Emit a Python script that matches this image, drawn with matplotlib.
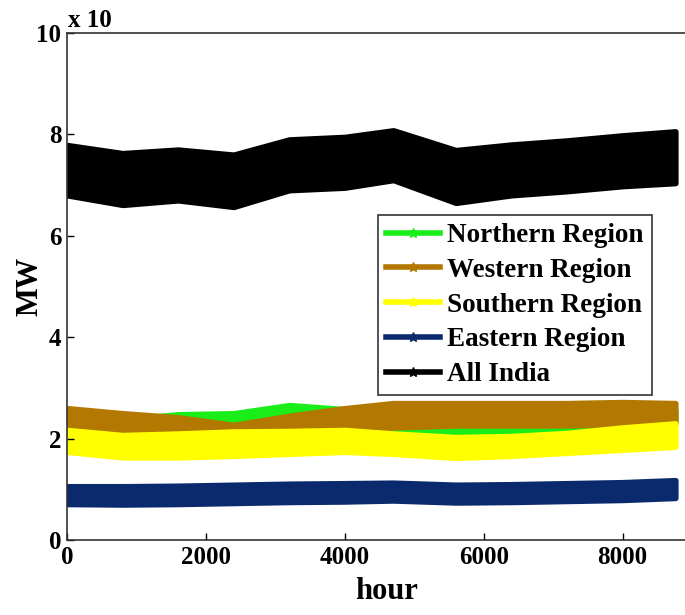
import matplotlib
matplotlib.use("Agg")
import matplotlib.pyplot as plt
from matplotlib.lines import Line2D

# envelope of hourly load (x 10^4 MW), read at a few hours of the year
hours = [0, 800, 1600, 2400, 3200, 4000, 4700, 5600, 6400, 7200, 8000, 8760]

northern_hi = [2.35, 2.38, 2.48, 2.50, 2.66, 2.58, 2.48, 2.42, 2.42, 2.45, 2.50, 2.55]
northern_lo = [1.98, 2.00, 2.10, 2.20, 2.25, 2.20, 2.08, 2.05, 2.06, 2.10, 2.28, 2.30]
western_hi = [2.60, 2.50, 2.42, 2.27, 2.45, 2.60, 2.70, 2.70, 2.70, 2.70, 2.72, 2.70]
western_lo = [2.15, 2.07, 2.07, 2.12, 2.15, 2.17, 2.22, 2.26, 2.26, 2.26, 2.28, 2.30]
southern_hi = [2.17, 2.07, 2.10, 2.14, 2.15, 2.17, 2.10, 2.03, 2.05, 2.11, 2.22, 2.30]
southern_lo = [1.74, 1.63, 1.63, 1.66, 1.70, 1.74, 1.70, 1.62, 1.66, 1.72, 1.78, 1.84]
eastern_hi = [1.06, 1.06, 1.07, 1.09, 1.11, 1.12, 1.13, 1.09, 1.10, 1.12, 1.14, 1.18]
eastern_lo = [0.71, 0.70, 0.71, 0.73, 0.75, 0.76, 0.78, 0.74, 0.75, 0.77, 0.79, 0.83]
india_hi = [7.79, 7.63, 7.70, 7.60, 7.90, 7.95, 8.08, 7.69, 7.80, 7.88, 7.98, 8.06]
india_lo = [6.80, 6.61, 6.70, 6.57, 6.90, 6.95, 7.10, 6.65, 6.80, 6.88, 6.98, 7.04]

labels = ['Northern Region', 'Western Region', 'Southern Region', 'Eastern Region', 'All India']
colors = ['#19ee19', '#b27800', '#ffff00', '#0b2a6e', '#000000']

plt.rcParams['font.family'] = ['Liberation Serif', 'DejaVu Serif']
plt.rcParams['font.weight'] = 'bold'

fig = plt.figure(figsize=(6.85, 6.15), dpi=100)
# right edge of the axes runs past the picture, as in the original
ax = fig.add_axes([67 / 685, 75 / 615, 640 / 685, 507 / 615])

bands = [(northern_lo, northern_hi), (western_lo, western_hi), (southern_lo, southern_hi),
         (eastern_lo, eastern_hi), (india_lo, india_hi)]
for (lo, hi), c in zip(bands, colors):
    pc = ax.fill_between(hours, lo, hi, color=c, linewidth=4, edgecolor=c)
    pc.set_joinstyle('round')

ax.set_xlim(0, 9216)
ax.set_ylim(0, 10)
ax.set_xticks([0, 2000, 4000, 6000, 8000])
ax.set_yticks([0, 2, 4, 6, 8, 10])
ax.tick_params(direction='in', length=5, width=1, labelsize=18, pad=4)
for s in ax.spines.values():
    s.set_linewidth(1.2)
    s.set_color('#333333')

ax.set_xlabel('hour', fontsize=22, fontweight='bold', labelpad=6)
ax.set_ylabel('MW', fontsize=22, fontweight='bold', labelpad=-6)
fig.text(68 / 685, 1 - 27 / 615, 'x 10', fontsize=18, fontweight='bold')

handles = [Line2D([], [], color=c, lw=4, marker='*', markersize=7) for c in colors]
leg = ax.legend(handles, labels, loc='upper left', bbox_to_anchor=(311 / 640, 325 / 507),
                fontsize=19.5, frameon=True, fancybox=False, framealpha=1,
                edgecolor='#333333', handlelength=2.0, handletextpad=0.25,
                labelspacing=0.36, borderpad=0.3, borderaxespad=0)
leg.get_frame().set_linewidth(1.2)

fig.savefig('out.png', dpi=100)
